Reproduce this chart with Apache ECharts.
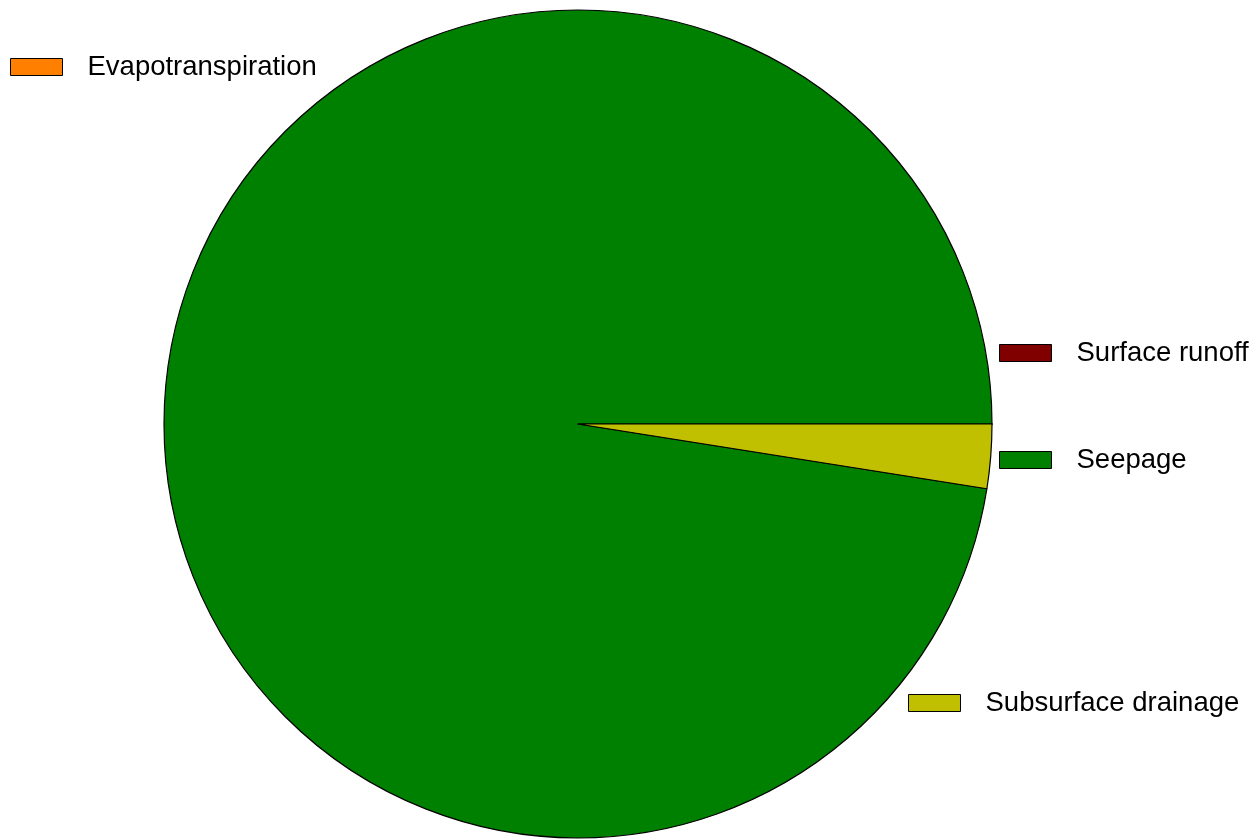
<!DOCTYPE html>
<html>
<head>
<meta charset="utf-8">
<script src="https://cdn.jsdelivr.net/npm/echarts@6/dist/echarts.min.js"></script>
<style>
  html, body { margin: 0; padding: 0; background: #fff; }
  #chart { width: 1255px; height: 839px; }
</style>
</head>
<body>
<div id="chart"></div>
<script>
// Water balance components (% of total outflow)
const categories = ['Evapotranspiration', 'Surface runoff', 'Seepage', 'Subsurface drainage'];
const values = [0, 0, 97.5, 2.5];
const colors = ['#FF8000', '#800000', '#008000', '#C0C000'];

// Legend entry anchor points (left, top of each entry)
const legendSpots = [
  { left: 10, top: 50 },
  { left: 999, top: 336 },
  { left: 999, top: 443 },
  { left: 908, top: 686 }
];

const chart = echarts.init(document.getElementById('chart'), null, { renderer: 'canvas' });

const legends = categories.map((name, i) => ({
  data: [name],
  left: legendSpots[i].left,
  top: legendSpots[i].top,
  orient: 'vertical',
  padding: 0,
  icon: 'rect',
  itemWidth: 52,
  itemHeight: 17,
  selectedMode: false,
  itemStyle: { borderColor: '#000', borderWidth: 1 },
  textStyle: {
    fontFamily: 'Liberation Sans, Arial, sans-serif',
    fontSize: 27.5,
    color: '#000',
    lineHeight: 30,
    padding: [4, 0, 0, 20]
  }
}));

chart.setOption({
  animation: false,
  color: colors,
  legend: legends,
  series: [{
    type: 'pie',
    center: [578, 424],
    radius: 414,
    startAngle: 0,
    clockwise: false,
    stillShowZeroSum: true,
    label: { show: false },
    labelLine: { show: false },
    emphasis: { disabled: true },
    itemStyle: { borderColor: '#000', borderWidth: 1.2 },
    data: categories.map((name, i) => ({ name, value: values[i] }))
  }]
});
</script>
</body>
</html>
